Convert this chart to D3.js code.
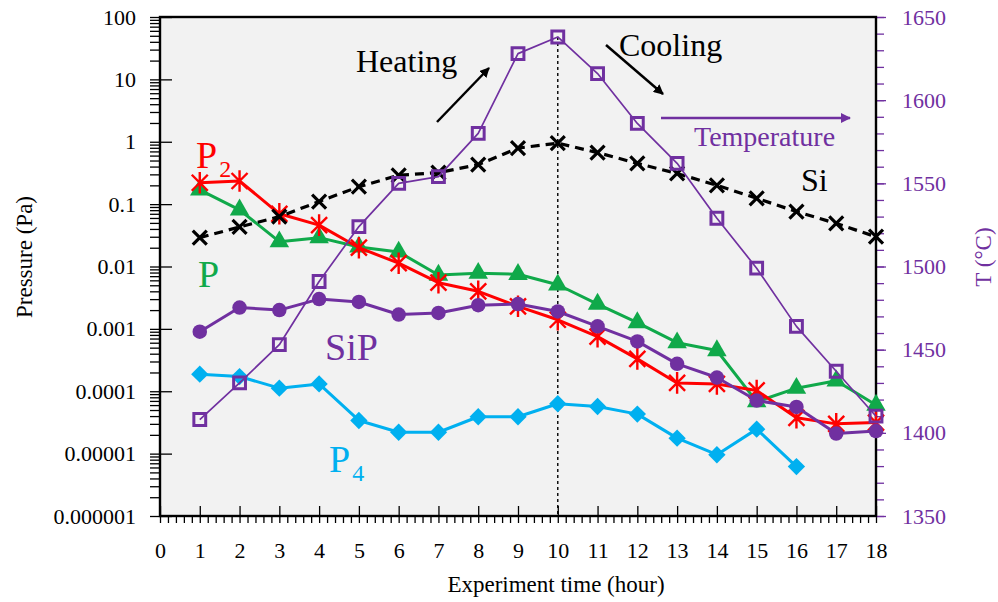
<!DOCTYPE html>
<html><head><meta charset="utf-8">
<script src="https://cdn.jsdelivr.net/npm/d3@7"></script>
<style>
html,body{margin:0;padding:0;background:#fff;}
svg text{font-family:"Liberation Serif","Times New Roman",serif;}
</style></head>
<body><svg id="chart" width="998" height="602"></svg>
<script>
// ---------- data ----------
const hours = [1,2,3,4,5,6,7,8,9,10,11,12,13,14,15,16,17,18];
const temperature = [1408,1430,1453,1491,1524,1550,1554,1580,1628,1638,1616,1586,1562,1529,1499,1464,1437,1410];
const si  = [0.029,0.043,0.063,0.11,0.19,0.29,0.32,0.43,0.79,0.95,0.67,0.45,0.31,0.20,0.124,0.076,0.049,0.030];
const p2  = [0.22,0.235,0.070,0.046,0.020,0.0113,0.0055,0.0040,0.0023,0.0014,0.00075,0.00033,0.000136,0.000131,0.000103,0.0000375,0.000030,0.0000315];
const pP  = [0.169,0.081,0.025,0.029,0.0206,0.0171,0.0073,0.0078,0.0075,0.0051,0.0025,0.00126,0.0006,0.00045,0.000068,0.000112,0.000147,0.00006];
const sip = [0.0009,0.0022,0.002,0.003,0.0027,0.0017,0.0018,0.0024,0.0025,0.0019,0.0011,0.00063,0.000275,0.000166,0.000071,0.000056,0.000021,0.000023];
const p4Hours = [1,2,3,4,5,6,7,8,9,10,11,12,13,14,15,16];
const p4  = [0.000188,0.000172,0.000112,0.000131,0.000034,0.000022,0.000022,0.000039,0.000039,0.000063,0.000057,0.000043,0.0000177,0.0000096,0.0000247,0.0000062];
const xTickLabels = ["0","1","2","3","4","5","6","7","8","9","10","11","12","13","14","15","16","17","18"];
const yTickValues = [1e-6,1e-5,1e-4,1e-3,1e-2,1e-1,1,10,100];
const yTickLabels = ["0.000001","0.00001","0.0001","0.001","0.01","0.1","1","10","100"];
const tTickValues = [1350,1400,1450,1500,1550,1600,1650];
const tTickLabels = ["1350","1400","1450","1500","1550","1600","1650"];

// ---------- setup ----------
const svg = d3.select("#chart");
const L = 160, R = 876, T = 17, B = 516;
const x = d3.scaleLinear().domain([0,18]).range([L,R]);
const y = d3.scaleLog().domain([1e-6,100]).range([B,T]);
const yT = d3.scaleLinear().domain([1350,1650]).range([B,T]);

const RED="#ff0000", GREEN="#10a94a", PURPLE="#7030a0", CYAN="#00b0f0";
const SERIF="Liberation Serif";

svg.append("rect").attr("x",L).attr("y",T).attr("width",R-L).attr("height",B-T).attr("fill","#f2f2f2");

// dotted line at hour 10
svg.append("line").attr("x1",x(10)).attr("x2",x(10)).attr("y1",yT(1638)).attr("y2",B)
  .attr("stroke","#000").attr("stroke-width",1.4).attr("stroke-dasharray","3,3");

// ---------- axes ----------
function styleAxis(g,color){g.select(".domain").remove();g.selectAll("line").attr("stroke",color).attr("stroke-width",1.3);}
function styleText(g,color){g.attr("font-family",SERIF);g.selectAll("text").attr("font-size",22).attr("fill",color).attr("font-family",SERIF);}

// left minor ticks
const minorY=[];for(let e=-6;e<2;e++){for(let k=1;k<10;k++)minorY.push(k*Math.pow(10,e));}minorY.push(100);
svg.append("g").attr("transform",`translate(${L},0)`).call(d3.axisLeft(y).tickValues(minorY).tickSize(10).tickFormat("")).call(g=>styleAxis(g,"#000"));
svg.append("g").attr("transform",`translate(${L},0)`).call(d3.axisLeft(y).tickValues(yTickValues).tickSize(-12).tickFormat("")).call(g=>styleAxis(g,"#000"));
svg.append("g").attr("transform",`translate(${L},0)`).call(d3.axisLeft(y).tickValues(yTickValues).tickSize(0).tickPadding(24).tickFormat((d,i)=>yTickLabels[i]))
  .call(g=>{g.select(".domain").remove();styleText(g,"#000");});

// bottom axis
const minorX=d3.range(0,90+1).map(i=>i/5);
svg.append("g").attr("transform",`translate(0,${B})`).call(d3.axisBottom(x).tickValues(minorX).tickSize(7).tickFormat("")).call(g=>styleAxis(g,"#000"));
svg.append("g").attr("transform",`translate(0,${B})`).call(d3.axisBottom(x).tickValues(d3.range(0,19)).tickSize(-10).tickFormat("")).call(g=>styleAxis(g,"#000"));
svg.append("g").attr("transform",`translate(0,${B})`).call(d3.axisBottom(x).tickValues(d3.range(0,19)).tickSize(0).tickPadding(26).tickFormat((d,i)=>xTickLabels[i]))
  .call(g=>{g.select(".domain").remove();styleText(g,"#000");});

// right axis
svg.append("g").attr("transform",`translate(${R},0)`).call(d3.axisRight(yT).tickValues(d3.range(1350,1651,10)).tickSize(8).tickFormat("")).call(g=>styleAxis(g,PURPLE));
svg.append("g").attr("transform",`translate(${R},0)`).call(d3.axisRight(yT).tickValues(tTickValues).tickSize(10).tickPadding(16).tickFormat((d,i)=>tTickLabels[i]))
  .call(g=>{styleAxis(g,PURPLE);styleText(g,PURPLE);});

// frame
svg.append("rect").attr("x",L).attr("y",T).attr("width",R-L).attr("height",B-T).attr("fill","none").attr("stroke","#000").attr("stroke-width",2.4);

// axis titles
svg.append("text").attr("x",556).attr("y",592).attr("text-anchor","middle").attr("font-size",23).text("Experiment time (hour)");
svg.append("text").attr("transform","translate(32,257) rotate(-90)").attr("text-anchor","middle").attr("font-size",23).text("Pressure (Pa)");
svg.append("text").attr("transform","translate(991,257) rotate(-90)").attr("text-anchor","middle").attr("font-size",23).attr("fill",PURPLE).text("T (°C)");

// ---------- series ----------
function series(xs, vals, sc){return xs.map((h,i)=>[x(h), sc(vals[i])]);}
const line = d3.line();

function drawLine(pts,color,w,dash){
  svg.append("path").attr("d",line(pts)).attr("fill","none").attr("stroke",color).attr("stroke-width",w)
    .attr("stroke-dasharray",dash||null).attr("stroke-linejoin","round");
}
function drawSymbols(pts,type,size,fill,stroke,sw,rot){
  svg.append("g").selectAll("path").data(pts).join("path")
    .attr("transform",d=>`translate(${d[0]},${d[1]})${rot?` rotate(${rot})`:""}`)
    .attr("d",d3.symbol().type(type).size(size)).attr("fill",fill).attr("stroke",stroke||"none").attr("stroke-width",sw||0);
}
function drawCross(pts,h,color,sw,withVertical){
  const g=svg.append("g");
  pts.forEach(p=>{
    let d=`M${-h},${-h}L${h},${h}M${-h},${h}L${h},${-h}`;
    if(withVertical) d+=`M0,${-h*1.35}L0,${h*1.35}`;
    g.append("path").attr("transform",`translate(${p[0]},${p[1]})`).attr("d",d).attr("stroke",color).attr("stroke-width",sw).attr("fill","none");
  });
}

const ptsP = series(hours,pP,y), ptsP2 = series(hours,p2,y), ptsSiP = series(hours,sip,y),
      ptsP4 = series(p4Hours,p4,y), ptsSi = series(hours,si,y), ptsT = series(hours,temperature,yT);

drawLine(ptsP,GREEN,3);
drawSymbols(ptsP,d3.symbolTriangle,165,GREEN);
drawLine(ptsP2,RED,3);
drawCross(ptsP2,8,RED,2.4,true);
drawLine(ptsSiP,PURPLE,3);
drawSymbols(ptsSiP,d3.symbolCircle,165,PURPLE);
drawLine(ptsP4,CYAN,3);
drawSymbols(ptsP4,d3.symbolSquare,150,CYAN,null,0,45);
drawLine(ptsSi,"#000",3.2,"9,6");
drawCross(ptsSi,7,"#000",3.2,false);
drawLine(ptsT,PURPLE,1.7);
drawSymbols(ptsT,d3.symbolSquare,140,"none",PURPLE,3);

// ---------- annotations ----------
const defs=svg.append("defs");
function arrowMarker(id,color){
  defs.append("marker").attr("id",id).attr("viewBox","0 0 10 10").attr("refX",9).attr("refY",5)
    .attr("markerWidth",4).attr("markerHeight",4).attr("orient","auto").attr("markerUnits","strokeWidth")
    .append("path").attr("d","M0,0L10,5L0,10z").attr("fill",color);
}
arrowMarker("ab","#000");arrowMarker("ap",PURPLE);
svg.append("line").attr("x1",437).attr("y1",122).attr("x2",489).attr("y2",68).attr("stroke","#000").attr("stroke-width",2.5).attr("marker-end","url(#ab)");
svg.append("line").attr("x1",606).attr("y1",45).attr("x2",663).attr("y2",94).attr("stroke","#000").attr("stroke-width",2.5).attr("marker-end","url(#ab)");
svg.append("line").attr("x1",661).attr("y1",118).attr("x2",850).attr("y2",118).attr("stroke",PURPLE).attr("stroke-width",2.5).attr("marker-end","url(#ap)");

svg.append("text").attr("x",356).attr("y",72).attr("font-size",32).text("Heating");
svg.append("text").attr("x",619).attr("y",56).attr("font-size",32).text("Cooling");
svg.append("text").attr("x",694).attr("y",146).attr("font-size",28).attr("fill",PURPLE).text("Temperature");
svg.append("text").attr("x",801).attr("y",191).attr("font-size",32).text("Si");

function label(xp,yp,main,sub,color){
  const t=svg.append("text").attr("x",xp).attr("y",yp).attr("font-size",38).attr("fill",color);
  t.append("tspan").text(main);
  if(sub) t.append("tspan").attr("dy",9).attr("dx",2).attr("font-size",24).text(sub);
}
label(196,168,"P","2",RED);
label(198,287,"P",null,GREEN);
label(325,360,"SiP",null,PURPLE);
label(329,472,"P","4",CYAN);
</script></body></html>
